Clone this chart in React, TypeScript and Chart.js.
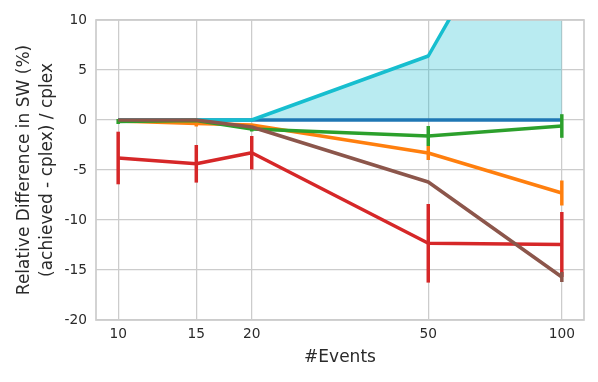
import React, { useEffect, useRef } from "react";
import { Chart, registerables } from "chart.js";
Chart.register(...registerables);

const events = [10, 15, 20, 50, 100];
const xTicks = [10, 15, 20, 50, 100];

const cplexVals = [0, 0, 0, 0, 0];
const cplexErr = [0, 0, 0, 0, 0];
const cyanVals = [0, 0, 0, 6.4, 29.7];
const cyanErr = [0, 0, 0, 0, 0];
const orangeVals = [-0.1, -0.35, -0.5, -3.3, -7.3];
const orangeErr = [0, 0.3, 0.1, 0.7, 1.25];
const greenVals = [-0.15, -0.05, -0.9, -1.6, -0.6];
const greenErr = [0.25, 0.1, 0.25, 1.0, 1.18];
const redVals = [-3.8, -4.38, -3.27, -12.33, -12.45];
const redErr = [2.63, 1.88, 1.67, 3.93, 3.25];
const brownVals = [0, 0, -0.7, -6.2, -15.7];
const brownErr = [0, 0, 0.1, 0.1, 0.5];

const errMap: Record<string, number[]> = {
  cplex: cplexErr,
  cyan: cyanErr,
  orange: orangeErr,
  green: greenErr,
  red: redErr,
  brown: brownErr,
};

const LW = 3.5;
const TEXT = "#2a2a2a";
const GRID = "#cccccc";

const errorBarPlugin = {
  id: "errbars",
  afterDatasetDraw(chart: any, args: any) {
    const ds = chart.data.datasets[args.index];
    const err = errMap[ds.label];
    if (!err) return;
    const { ctx, chartArea } = chart;
    const xs = chart.scales.x;
    const ys = chart.scales.y;
    ctx.save();
    ctx.beginPath();
    ctx.rect(chartArea.left, chartArea.top, chartArea.right - chartArea.left, chartArea.bottom - chartArea.top);
    ctx.clip();
    ctx.strokeStyle = ds.borderColor;
    ctx.lineWidth = LW;
    ctx.lineCap = "butt";
    ds.data.forEach((p: any, i: number) => {
      const e = err[i];
      if (!e) return;
      const px = xs.getPixelForValue(p.x);
      ctx.beginPath();
      ctx.moveTo(px, ys.getPixelForValue(p.y + e));
      ctx.lineTo(px, ys.getPixelForValue(p.y - e));
      ctx.stroke();
    });
    ctx.restore();
  },
};

const framePlugin = {
  id: "frame",
  beforeDatasetsDraw(chart: any) {
    const { ctx, chartArea } = chart;
    ctx.save();
    ctx.strokeStyle = GRID;
    ctx.lineWidth = 1.7;
    ctx.strokeRect(chartArea.left, chartArea.top, chartArea.right - chartArea.left, chartArea.bottom - chartArea.top);
    ctx.restore();
  },
};

function mk(label: string, vals: number[], color: string, order: number, extra: any = {}) {
  return {
    label,
    data: events.map((x, i) => ({ x, y: vals[i] })),
    borderColor: color,
    backgroundColor: color,
    borderWidth: LW,
    pointRadius: 0,
    borderJoinStyle: "round",
    fill: false,
    order,
    ...extra,
  };
}

export default function App() {
  const ref = useRef<HTMLCanvasElement | null>(null);
  useEffect(() => {
    if (!ref.current) return;
    const chart = new Chart(ref.current, {
      type: "line",
      data: {
        datasets: [
          mk("cplex", cplexVals, "#1f77b4", 6),
          mk("cyan", cyanVals, "#17becf", 5, { fill: "origin", backgroundColor: "rgba(23,190,207,0.3)" }),
          mk("orange", orangeVals, "#ff7f0e", 4),
          mk("green", greenVals, "#2ca02c", 3),
          mk("red", redVals, "#d62728", 2),
          mk("brown", brownVals, "#8c564b", 1),
        ] as any,
      },
      options: {
        animation: false,
        responsive: false,
        maintainAspectRatio: false,
        layout: { padding: { left: 0, right: 14, top: 20, bottom: 0 } },
        plugins: {
          legend: { display: false },
          tooltip: { enabled: false },
          filler: { drawTime: "beforeDatasetsDraw" } as any,
        },
        scales: {
          x: {
            type: "logarithmic",
            min: 8.913,
            max: 112.2,
            afterBuildTicks: (scale: any) => {
              scale.ticks = xTicks.map((v) => ({ value: v }));
            },
            afterFit: (scale: any) => {
              scale.height = 62;
            },
            ticks: {
              autoSkip: false,
              maxRotation: 0,
              padding: 6,
              color: TEXT,
              font: { family: "DejaVu Sans", size: 13.75 },
              callback: (v: any) => String(v),
            },
            grid: { color: GRID, lineWidth: 1.25, drawTicks: false },
            border: { display: false },
            title: {
              display: true,
              text: "#Events",
              color: TEXT,
              font: { family: "DejaVu Sans", size: 17, lineHeight: 1.35 },
              padding: { top: 0, bottom: 12.5 },
            },
          },
          y: {
            type: "linear",
            min: -20,
            max: 10,
            afterFit: (scale: any) => {
              scale.width = 96;
            },
            ticks: {
              stepSize: 5,
              padding: 9,
              color: TEXT,
              font: { family: "DejaVu Sans", size: 13.75 },
              callback: (v: any) => String(v),
            },
            grid: { color: GRID, lineWidth: 1.25, drawTicks: false },
            border: { display: false },
            title: {
              display: true,
              text: ["Relative Difference in SW (%)", "(achieved - cplex) / cplex"],
              color: TEXT,
              font: { family: "DejaVu Sans", size: 17, lineHeight: 1.35 },
              padding: { top: 13.5, bottom: 0 },
            },
          },
        },
      },
      plugins: [errorBarPlugin, framePlugin],
    } as any);
    return () => chart.destroy();
  }, []);
  return (
    <div style={{ position: "fixed", left: 0, top: 0, width: 598, height: 382, background: "#fff" }}>
      <canvas ref={ref} width={598} height={382} style={{ display: "block" }} />
    </div>
  );
}
